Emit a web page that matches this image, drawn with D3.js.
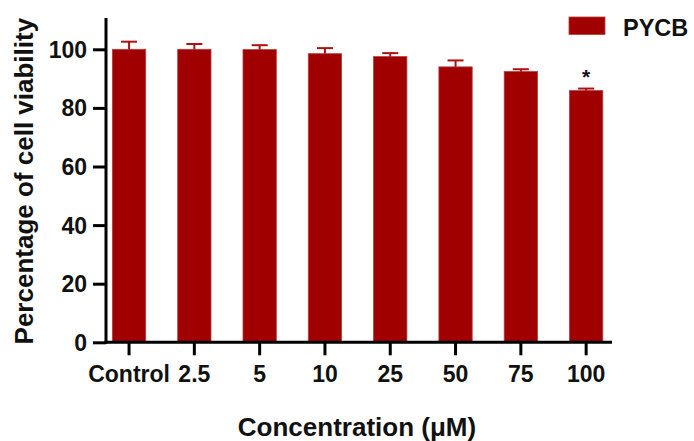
<!DOCTYPE html>
<html>
<head>
<meta charset="utf-8">
<script src="https://cdn.jsdelivr.net/npm/d3@7/dist/d3.min.js"></script>
<style>
  html, body { margin: 0; padding: 0; background: #fff; }
  svg { display: block; }
  text { font-family: Arial, "Liberation Sans", Helvetica, sans-serif; font-weight: bold; fill: #111; }
</style>
</head>
<body>
<svg id="chart" width="694" height="441"></svg>
<script>
// Cell viability after PYCB treatment (mean ± SD, % of control)
const categories = ["Control", "2.5", "5", "10", "25", "50", "75", "100"];
const viability = [100, 100, 99.9, 98.5, 97.5, 94.0, 92.4, 85.9];
const errorSD = [2.6, 1.8, 1.5, 1.9, 1.2, 2.2, 0.8, 0.7];
const significant = ["100"];
const yTicks = [0, 20, 40, 60, 80, 100];
const seriesName = "PYCB";

const barColor = "#a00000";
const svg = d3.select("#chart");

const axisX = 106, axisBottom = 342.3, axisTop = 20, axisRight = 612;

const x = d3.scaleBand()
  .domain(categories)
  .range([96.4, 618.8])
  .paddingInner(0.49)
  .paddingOuter(0.245);

const y = d3.scaleLinear()
  .domain([0, 110])
  .range([axisBottom, axisTop]);

// Bars
svg.append("g").selectAll("rect")
  .data(categories)
  .join("rect")
  .attr("x", d => x(d))
  .attr("width", x.bandwidth())
  .attr("y", (d, i) => y(viability[i]))
  .attr("height", (d, i) => y(0) - y(viability[i]))
  .attr("fill", barColor)
  .attr("stroke", "#b83a3a")
  .attr("stroke-width", 0.8);

// Upper error bars
const err = svg.append("g").attr("stroke", "#b01010").attr("stroke-width", 2);
categories.forEach((c, i) => {
  const cx = x(c) + x.bandwidth() / 2;
  const top = y(viability[i] + errorSD[i]);
  err.append("line")
    .attr("x1", cx).attr("x2", cx)
    .attr("y1", y(viability[i])).attr("y2", top);
  err.append("line")
    .attr("x1", cx - 8).attr("x2", cx + 8)
    .attr("y1", top).attr("y2", top);
});

// Significance markers
svg.append("g").selectAll("text")
  .data(significant)
  .join("text")
  .attr("x", d => x(d) + x.bandwidth() / 2)
  .attr("y", d => {
    const i = categories.indexOf(d);
    return y(viability[i] + errorSD[i]) - 5;
  })
  .attr("text-anchor", "middle")
  .style("font-size", "21px")
  .text("*");

// Y axis
const yAxis = d3.axisLeft(y)
  .tickValues(yTicks)
  .tickSize(13)
  .tickPadding(6)
  .tickFormat(d3.format("d"));
const gy = svg.append("g")
  .attr("transform", `translate(${axisX},0)`)
  .call(yAxis);
gy.select(".domain").remove();
gy.selectAll(".tick line").attr("stroke", "#000").attr("stroke-width", 3);
gy.selectAll(".tick text").style("font-size", "23px").attr("dy", "0.35em");
svg.append("line")
  .attr("x1", axisX).attr("x2", axisX)
  .attr("y1", y(110) - 2).attr("y2", axisBottom + 1.5)
  .attr("stroke", "#000").attr("stroke-width", 3);

// X axis
const xAxis = d3.axisBottom(x)
  .tickSize(13)
  .tickPadding(10);
const gx = svg.append("g")
  .attr("transform", `translate(0,${axisBottom})`)
  .call(xAxis);
gx.select(".domain").remove();
gx.selectAll(".tick line").attr("stroke", "#000").attr("stroke-width", 3);
gx.selectAll(".tick text").style("font-size", "23px");
svg.append("line")
  .attr("x1", axisX - 1.5).attr("x2", axisRight)
  .attr("y1", axisBottom).attr("y2", axisBottom)
  .attr("stroke", "#000").attr("stroke-width", 3);

// Axis titles
svg.append("text")
  .attr("x", 357)
  .attr("y", 436)
  .attr("text-anchor", "middle")
  .style("font-size", "26px")
  .text("Concentration (\u03BCM)");

svg.append("text")
  .attr("transform", `translate(33,${(axisTop + axisBottom) / 2}) rotate(-90)`)
  .attr("text-anchor", "middle")
  .style("font-size", "26px")
  .text("Percentage of cell viability");

// Legend
const legend = svg.append("g").attr("transform", "translate(569,17)");
legend.append("rect")
  .attr("width", 36).attr("height", 17.5)
  .attr("fill", barColor)
  .attr("stroke", "#b83a3a").attr("stroke-width", 0.8);
legend.append("text")
  .attr("x", 54).attr("y", 18.5)
  .style("font-size", "23.5px")
  .text(seriesName);
</script>
</body>
</html>
